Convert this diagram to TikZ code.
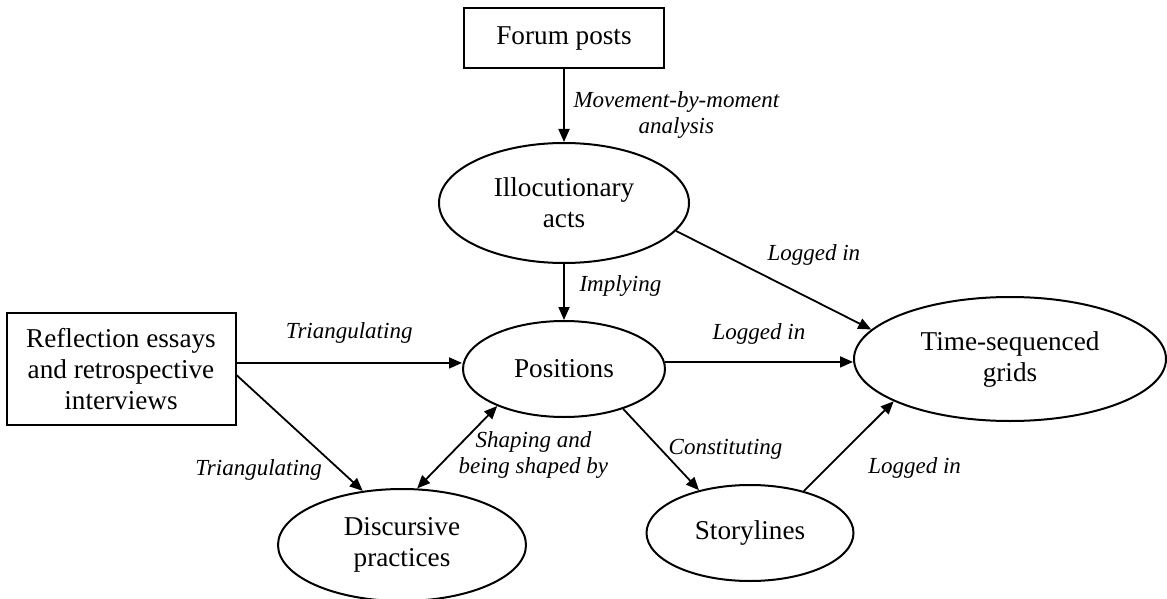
\documentclass[tikz,border=0pt]{standalone}
\usepackage{fontspec}
\setmainfont{Liberation Serif}
\usepackage{tikz}
\usetikzlibrary{shapes.geometric, arrows.meta, positioning, calc}
\tikzset{
	srcbox/.style ={rectangle, draw=black, line width=1pt, align=center, inner sep=2pt},
	oval/.style   ={ellipse, draw=black, line width=1pt, align=center, inner sep=1pt},
	sig/.style    ={-{Triangle[length=6.5pt, width=5.5pt]}, line width=0.9pt},
	lbl/.style    ={font=\fontsize{11.5}{13}\selectfont\itshape, align=center},
}

\begin{document}
\begin{tikzpicture}[font=\fontsize{13.6}{15.5}\selectfont]
	\useasboundingbox (0,0) rectangle (583.5pt,-299.5pt);
	\node[srcbox, minimum width=100pt, minimum height=30pt] (forum) at (282pt,-19pt) {Forum posts};
	\node[oval, below=36.5pt of forum, minimum width=125pt, minimum height=60pt] (illoc) {Illocutionary\\ acts};
	\node[oval, below=28pt of illoc, minimum width=101pt, minimum height=48pt] (pos) {Positions};
	\node[srcbox, left=112.75pt of pos, minimum width=114.5pt, minimum height=56pt] (refl) {Reflection essays\\ and retrospective\\ interviews};
	\node[oval, right=93.5pt of pos, yshift=5pt, minimum width=156pt, minimum height=62pt] (time) {Time-sequenced\\ grids};
	\node[oval, below=35pt of pos, xshift=-81pt, minimum width=124pt, minimum height=56pt] (disc) {Discursive\\ practices};
	\node[oval, below=33pt of pos, xshift=93pt, minimum width=103.5pt, minimum height=48pt] (story) {Storylines};
	\draw[sig] (forum) -- node[lbl, right, xshift=1pt, yshift=-5pt] {Movement-by-moment\\ analysis} (illoc);
	\draw[sig] (illoc) -- node[lbl, right, xshift=4pt, yshift=3pt] {Implying} (pos);
	\draw[sig] (refl.3) -- node[lbl, above, yshift=6pt] {Triangulating} (refl.3 -| pos.west);
	\draw[sig] (refl.-3) -- node[lbl, pos=0.7, below left, inner sep=1pt] {Triangulating} (disc.126);
	\draw[{Triangle[length=6.5pt, width=5.5pt]}-{Triangle[length=6.5pt, width=5.5pt]}, line width=0.9pt] (disc.75) -- node[lbl, right, xshift=-3pt, yshift=-4pt] {Shaping and\\ being shaped by} (pos.209);
	\draw[sig] (pos.-34) -- node[lbl, right] {Constituting} (story.140);
	\draw[sig] (illoc.-14) -- node[lbl, pos=0.43, above right] {Logged in} (time.168);
	\draw[sig] (pos.4) -- node[lbl, above, yshift=5pt] {Logged in} (pos.4 -| time.west);
	\draw[sig] (story.38) -- node[lbl, below right, xshift=6pt, yshift=-2pt] {Logged in} (time.200);
\end{tikzpicture}
\end{document}
